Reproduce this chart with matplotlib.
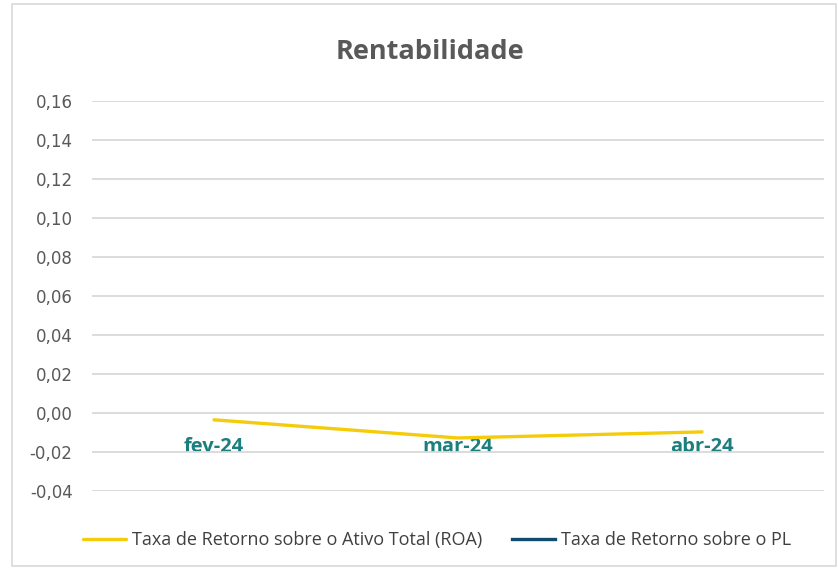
import matplotlib.pyplot as plt
import numpy as np
from matplotlib.ticker import FuncFormatter, MultipleLocator
from matplotlib.patches import Rectangle

meses = ['fev-24', 'mar-24', 'abr-24']
roa = [-0.0035, -0.0128, -0.0097]
roe = [np.nan, np.nan, np.nan]  # serie PL nao aparece no grafico
serie_nomes = ['Taxa de Retorno sobre o Ativo Total (ROA)', 'Taxa de Retorno sobre o PL']

fig = plt.figure(figsize=(8.38, 5.70), dpi=100)
ax = fig.add_axes([92 / 838, 1 - 491 / 570, (824 - 92) / 838, (491 - 101) / 570])

# moldura do grafico
fig.patches.append(Rectangle((12 / 838, 4 / 570), 824 / 838, 562 / 570, transform=fig.transFigure,
                             fill=False, edgecolor='#d9d9d9', linewidth=1.2))

x = np.arange(len(meses))
ax.plot(x, roa, color='#f5cc0a', linewidth=2.4, label=serie_nomes[0], solid_capstyle='round')
ax.plot(x, roe, color='#0f4c6e', linewidth=2.4, label=serie_nomes[1])

ax.set_xlim(-0.5, 2.5)
ax.set_ylim(-0.04, 0.16)
ax.yaxis.set_major_locator(MultipleLocator(0.02))
ax.yaxis.set_major_formatter(FuncFormatter(lambda v, p: f'{v:.2f}'.replace('.', ',').replace('-0,00', '0,00')))
ax.grid(axis='y', color='#d9d9d9', linewidth=1.3)
ax.set_axisbelow(True)

for s in ['top', 'right', 'left']:
    ax.spines[s].set_visible(False)
ax.spines['bottom'].set_position(('data', 0))
ax.spines['bottom'].set_visible(False)

ax.set_xticks(x)
ax.set_xticklabels(meses, fontsize=14.5, fontweight='bold', color='#1b7f80', family='Open Sans')
ax.tick_params(axis='x', length=0, pad=17)
ax.tick_params(axis='y', length=0, pad=14, labelsize=12, labelcolor='#595959')

fig.text(430 / 838, 1 - 52 / 570, 'Rentabilidade', ha='center', va='center',
         fontsize=19.5, fontweight='bold', color='#595959', family='Open Sans')

leg = fig.legend(loc='center', bbox_to_anchor=(437 / 838, 1 - 540 / 570), ncol=2, frameon=False,
                 handlelength=2.4, handletextpad=0.33, columnspacing=1.6,
                 prop={'family': 'Open Sans', 'size': 13})
for t in leg.get_texts():
    t.set_color('#404040')

fig.savefig('out.png', dpi=100, facecolor='white')
